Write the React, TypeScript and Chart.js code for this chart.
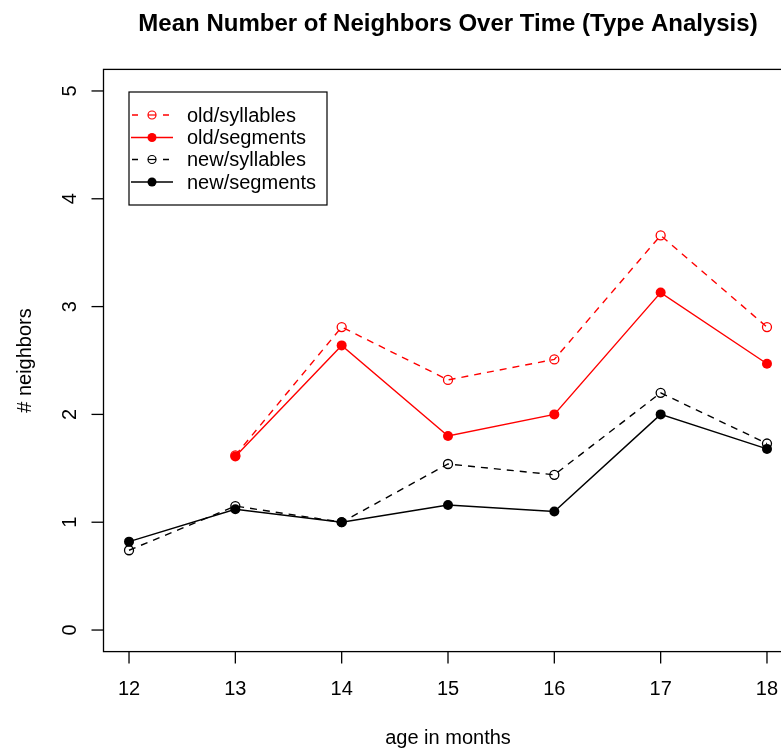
import React, { useEffect, useRef } from "react";
import { Chart, registerables } from "chart.js";

Chart.register(...registerables);

const months = [12, 13, 14, 15, 16, 17, 18];
const oldSyllables = [null, 1.62, 2.81, 2.32, 2.51, 3.66, 2.81];
const oldSegments = [null, 1.61, 2.64, 1.8, 2.0, 3.13, 2.47];
const newSyllables = [0.74, 1.15, 1.0, 1.54, 1.44, 2.2, 1.73];
const newSegments = [0.82, 1.12, 1.0, 1.16, 1.1, 2.0, 1.68];
const xTicks = [12, 13, 14, 15, 16, 17, 18];
const yTicks = [0, 1, 2, 3, 4, 5];
const seriesNames = ["old/syllables", "old/segments", "new/syllables", "new/segments"];

const TITLE = "Mean Number of Neighbors Over Time (Type Analysis)";
const X_LABEL = "age in months";
const Y_LABEL = "# neighbors";
const FONT = '"Liberation Sans", Arial, Helvetica, sans-serif';

const RED = "#ff0000";
const BLACK = "#000000";

const legendStyles = [
  { color: RED, dash: [6, 5], filled: false },
  { color: RED, dash: [], filled: true },
  { color: BLACK, dash: [6, 5], filled: false },
  { color: BLACK, dash: [], filled: true },
];

function pts(vals: (number | null)[]) {
  return months.map((m, i) => ({ x: m, y: vals[i] }));
}

const decorPlugin = {
  id: "rdecor",
  afterDraw(chart: any) {
    const ctx = chart.ctx as CanvasRenderingContext2D;
    const ca = chart.chartArea;
    const xs = chart.scales.x;
    const ys = chart.scales.y;
    ctx.save();
    // box
    ctx.strokeStyle = "#000";
    ctx.lineWidth = 1.3;
    ctx.setLineDash([]);
    ctx.strokeRect(ca.left, ca.top, ca.right - ca.left, ca.bottom - ca.top);

    // x ticks
    ctx.fillStyle = "#000";
    ctx.font = `20px ${FONT}`;
    ctx.textAlign = "center";
    ctx.textBaseline = "middle";
    for (const t of xTicks) {
      const px = xs.getPixelForValue(t);
      ctx.beginPath();
      ctx.moveTo(px, ca.bottom);
      ctx.lineTo(px, ca.bottom + 12);
      ctx.stroke();
      ctx.fillText(String(t), px, 689);
    }
    // y ticks
    for (const t of yTicks) {
      const py = ys.getPixelForValue(t);
      ctx.beginPath();
      ctx.moveTo(ca.left, py);
      ctx.lineTo(ca.left - 12, py);
      ctx.stroke();
      ctx.save();
      ctx.translate(70, py);
      ctx.rotate(-Math.PI / 2);
      ctx.fillText(String(t), 0, 0);
      ctx.restore();
    }
    // axis titles
    ctx.fillText(X_LABEL, (ca.left + ca.right) / 2, 738);
    ctx.save();
    ctx.translate(25, (ca.top + ca.bottom) / 2);
    ctx.rotate(-Math.PI / 2);
    ctx.fillText(Y_LABEL, 0, 0);
    ctx.restore();

    // title
    ctx.font = `bold 24px ${FONT}`;
    ctx.textBaseline = "alphabetic";
    ctx.fillText(TITLE, (ca.left + ca.right) / 2, 31);

    // legend
    const bx = 129, by = 92, bw = 198, bh = 113;
    ctx.lineWidth = 1.2;
    ctx.strokeStyle = "#000";
    ctx.strokeRect(bx, by, bw, bh);
    const rows = [115, 137.5, 159.5, 182];
    ctx.font = `20px ${FONT}`;
    ctx.textAlign = "left";
    ctx.textBaseline = "middle";
    legendStyles.forEach((s, i) => {
      const y = rows[i];
      ctx.strokeStyle = s.color;
      ctx.fillStyle = s.color;
      ctx.lineWidth = 1.5;
      if (s.filled) {
        ctx.setLineDash([]);
        ctx.beginPath();
        ctx.moveTo(131, y);
        ctx.lineTo(173, y);
        ctx.stroke();
        ctx.beginPath();
        ctx.arc(152, y, 4.5, 0, Math.PI * 2);
        ctx.fill();
      } else {
        ctx.setLineDash([]);
        ctx.beginPath();
        ctx.moveTo(132, y);
        ctx.lineTo(138, y);
        ctx.moveTo(163, y);
        ctx.lineTo(169, y);
        ctx.stroke();
        ctx.lineWidth = 1.2;
        ctx.beginPath();
        ctx.arc(152, y, 4, 0, Math.PI * 2);
        ctx.stroke();
        ctx.beginPath();
        ctx.moveTo(148, y);
        ctx.lineTo(156, y);
        ctx.stroke();
      }
      ctx.fillStyle = "#000";
      ctx.fillText(seriesNames[i], 187, y + 1);
    });
    ctx.restore();
  },
};

export default function App() {
  const ref = useRef<HTMLCanvasElement | null>(null);
  useEffect(() => {
    if (!ref.current) return;
    const mk = (label: string, vals: (number | null)[], color: string, dashed: boolean, filled: boolean, order: number) => ({
      label,
      data: pts(vals),
      borderColor: color,
      borderWidth: 1.4,
      borderDash: dashed ? [7, 6] : [],
      pointRadius: filled ? 5 : 4.5,
      pointBorderWidth: filled ? 0 : 1.3,
      pointBorderColor: color,
      pointBackgroundColor: filled ? color : "rgba(0,0,0,0)",
      pointStyle: "circle",
      tension: 0,
      spanGaps: false,
      order,
    });
    const chart = new Chart(ref.current, {
      type: "line",
      data: {
        datasets: [
          mk(seriesNames[0], oldSyllables, RED, true, false, 4),
          mk(seriesNames[1], oldSegments, RED, false, true, 3),
          mk(seriesNames[2], newSyllables, BLACK, true, false, 2),
          mk(seriesNames[3], newSegments, BLACK, false, true, 1),
        ],
      },
      options: {
        responsive: false,
        animation: false,
        devicePixelRatio: 1,
        layout: { padding: { left: 103.5, right: 7.5, top: 69.4, bottom: 98.4 } },
        scales: {
          x: { type: "linear", min: 11.76, max: 18.24, display: false },
          y: { type: "linear", min: -0.2, max: 5.2, display: false },
        },
        plugins: { legend: { display: false }, title: { display: false }, tooltip: { enabled: false } },
        elements: { line: { fill: false } },
      },
      plugins: [decorPlugin],
    } as any);
    return () => chart.destroy();
  }, []);
  return (
    <div style={{ position: "fixed", left: 0, top: 0, width: 781, height: 750, overflow: "hidden", background: "#fff" }}>
      <canvas ref={ref} width={800} height={750} style={{ width: 800, height: 750, display: "block" }} />
    </div>
  );
}
